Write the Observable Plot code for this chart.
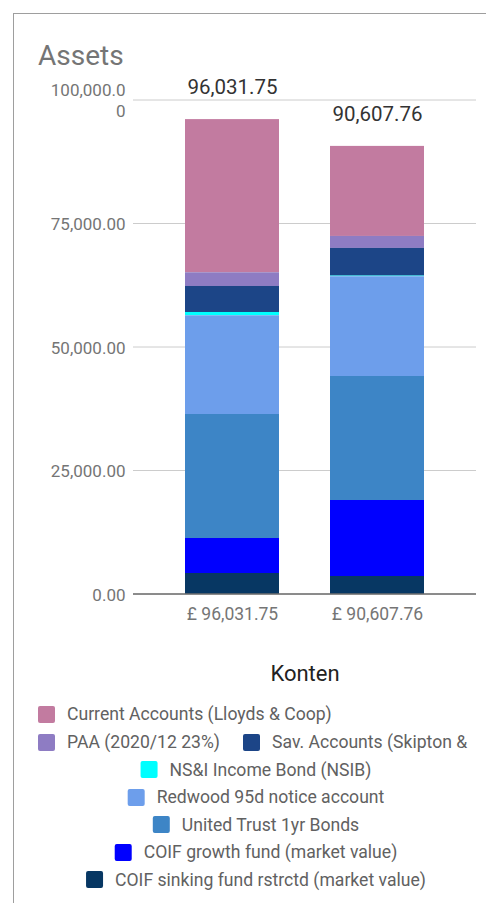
<!DOCTYPE html>
<html>
<head>
<meta charset="utf-8">
<script src="https://cdn.jsdelivr.net/npm/d3@7"></script>
<script src="https://cdn.jsdelivr.net/npm/@observablehq/plot@0.6"></script>
<style>
  html, body { margin: 0; padding: 0; background: #fff; }
  body { width: 486px; height: 903px; overflow: hidden; position: relative; font-family: Roboto, "Noto Sans", sans-serif; }
  #frame { position: absolute; left: 13px; top: 13px; width: 600px; height: 1000px; border-left: 1px solid #9e9e9e; border-top: 1px solid #9e9e9e; box-sizing: border-box; }
  #chart { position: absolute; left: 0; top: 0; }
  #title { position: absolute; left: 38px; top: 40px; font-size: 28px; color: #757575; line-height: 32px; }
  #legend-title { position: absolute; left: 305px; top: 673px; transform: translate(-50%, -50%); font-size: 22px; color: #222; white-space: nowrap; }
  .row { position: absolute; display: flex; align-items: center; white-space: nowrap; font-size: 17.6px; color: #616161; height: 20px; }
  .item { display: flex; align-items: center; margin-right: 23px; }
  .sw { width: 17px; height: 17px; border-radius: 2px; margin-right: 12px; flex: none; }
</style>
</head>
<body>
<div id="frame"></div>
<div id="chart"></div>
<div id="title">Assets</div>
<div id="legend-title">Konten</div>
<div id="legend"></div>
<script>
// ---- data ----
const categories = ["£ 96,031.75", "£ 90,607.76"];
const totals = [96031.75, 90607.76];
const totalLabels = ["96,031.75", "90,607.76"];
const series = [
  "Current Accounts (Lloyds & Coop)",
  "PAA (2020/12 23%)",
  "Sav. Accounts (Skipton &",
  "NS&I Income Bond (NSIB)",
  "Redwood 95d notice account",
  "United Trust 1yr Bonds",
  "COIF growth fund (market value)",
  "COIF sinking fund rstrctd (market value)"
];
const colors = ["#c27ba0", "#8e7cc3", "#1c4587", "#00ffff", "#6d9eeb", "#3d85c6", "#0000ff", "#073763"];
const valuesFirst = [31010, 2773, 5263, 670, 19980, 25101, 7085, 4150];
const valuesSecond = [18227, 2430, 5600, 140, 20183, 25101, 15384, 3543];
const yTicks = [0, 25000, 50000, 75000, 100000];
const yTickLabels = ["0.00", "25,000.00", "50,000.00", "75,000.00", "100,000.0\n0"];

// ---- build table ----
const rows = [];
series.forEach((s, i) => {
  rows.push({cat: categories[0], series: s, value: valuesFirst[i]});
  rows.push({cat: categories[1], series: s, value: valuesSecond[i]});
});
const totalRows = categories.map((c, i) => ({cat: c, total: totals[i], label: totalLabels[i]}));
const bottomUp = series.slice().reverse();

const chart = Plot.plot({
  width: 486,
  height: 640,
  marginTop: 99.5,
  marginBottom: 46.5,
  marginLeft: 133,
  marginRight: 10,
  style: {fontFamily: "Roboto, sans-serif", background: "transparent"},
  x: {domain: categories, padding: 0.35, label: null},
  y: {domain: [0, 100000], label: null},
  color: {domain: series, range: colors},
  marks: [
    Plot.gridY(yTicks, {stroke: "#cccccc", strokeOpacity: 1, strokeWidth: 1}),
    Plot.barY(rows, {x: "cat", y: "value", fill: "series", order: bottomUp}),
    Plot.ruleY([0], {stroke: "#333", strokeWidth: 1}),
    Plot.axisY(yTicks, {tickSize: 0, tickPadding: 8, fontSize: 17, fill: "#757575", lineHeight: 1.25,
      tickFormat: (d) => yTickLabels[yTicks.indexOf(d)]}),
    Plot.axisX({tickSize: 0, tickPadding: 14, fontSize: 17.5, fill: "#757575"}),
    Plot.text(totalRows, {x: "cat", y: "total", text: "label", dy: -32, fontSize: 20.5, fill: "#333"})
  ]
});
document.getElementById("chart").appendChild(chart);

// ---- legend ----
const legendRows = [
  {items: [0], left: 38, center: false, y: 714},
  {items: [1, 2], left: 38, center: false, y: 742},
  {items: [3], left: 256, center: true, y: 769.5},
  {items: [4], left: 256, center: true, y: 797},
  {items: [5], left: 256, center: true, y: 824.5},
  {items: [6], left: 256, center: true, y: 852},
  {items: [7], left: 256, center: true, y: 879.5}
];
const legend = document.getElementById("legend");
legendRows.forEach(r => {
  const row = document.createElement("div");
  row.className = "row";
  row.style.left = r.left + "px";
  row.style.top = (r.y - 10) + "px";
  if (r.center) row.style.transform = "translateX(-50%)";
  r.items.forEach((idx, k) => {
    const it = document.createElement("div");
    it.className = "item";
    if (k === r.items.length - 1) it.style.marginRight = "0";
    const sw = document.createElement("div");
    sw.className = "sw";
    sw.style.background = colors[idx];
    const tx = document.createElement("span");
    tx.textContent = series[idx];
    it.appendChild(sw);
    it.appendChild(tx);
    row.appendChild(it);
  });
  legend.appendChild(row);
});
</script>
</body>
</html>
